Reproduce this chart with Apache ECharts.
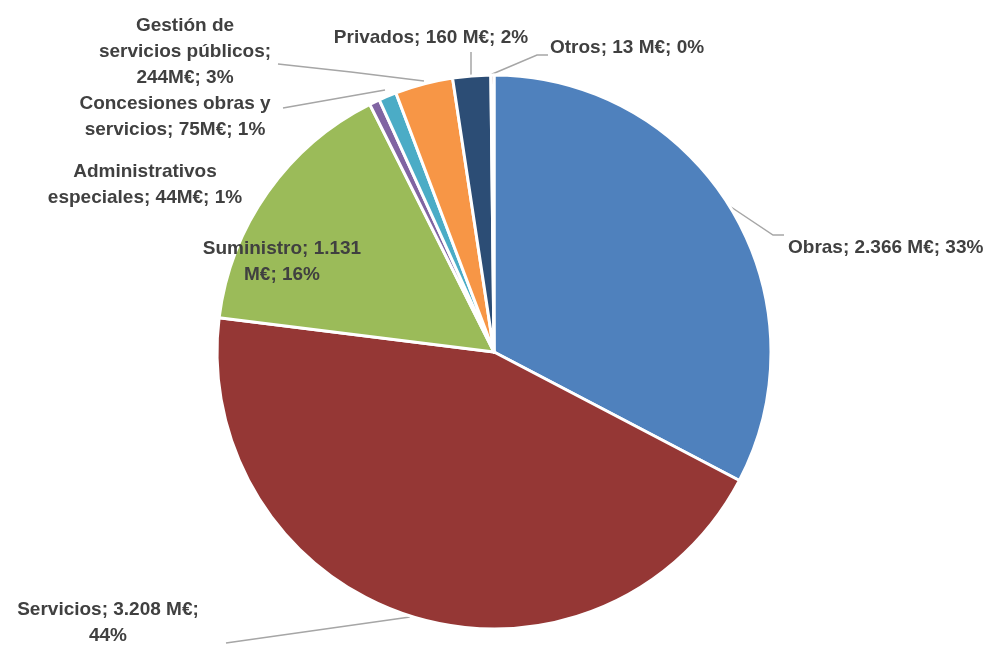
<!DOCTYPE html>
<html>
<head>
<meta charset="utf-8">
<script src="https://cdn.jsdelivr.net/npm/echarts@6/dist/echarts.min.js"></script>
<style>
  html, body { margin: 0; padding: 0; background: #fff; }
  #chart { width: 995px; height: 645px; }
</style>
</head>
<body>
<div id="chart"></div>
<script>
const categories = ['Obras', 'Servicios', 'Suministro', 'Administrativos especiales',
  'Concesiones obras y servicios', 'Gestión de servicios públicos', 'Privados', 'Otros']
const values = [2366, 3208, 1131, 44, 75, 244, 160, 13]
const labelTexts = [
  'Obras; 2.366 M€; 33%',
  'Servicios; 3.208 M€;\n44%',
  'Suministro; 1.131\nM€; 16%',
  'Administrativos\nespeciales; 44M€; 1%',
  'Concesiones obras y\nservicios; 75M€; 1%',
  'Gestión de\nservicios públicos;\n244M€; 3%',
  'Privados; 160 M€; 2%',
  'Otros; 13 M€; 0%'
]
const colors = ['#4F81BD', '#953735', '#9BBB59', '#8064A2', '#4BACC6', '#F79646', '#2C4D75', '#772C2A']

// where each label sits, and the leader line (null = none)
const labelSpots = [
  { x: 788, y: 248, align: 'left', line: [[731, 207], [773, 235], [784, 235]] },
  { x: 108, y: 623, align: 'center', line: [[410, 617], [318, 630], [226, 643]] },
  { x: 282, y: 262, align: 'center', line: null },
  { x: 145, y: 185, align: 'center', line: null },
  { x: 175, y: 117, align: 'center', line: [[385, 90], [334, 99], [283, 108]] },
  { x: 185, y: 52, align: 'center', line: [[424, 81], [351, 72], [278, 64]] },
  { x: 431, y: 38, align: 'center', line: [[471, 76], [471, 64], [471, 52]] },
  { x: 550, y: 48, align: 'left', line: [[490, 75], [537, 55], [548, 55]] }
]

const chart = echarts.init(document.getElementById('chart'))

chart.setOption({
  animation: false,
  series: [{
    type: 'pie',
    center: [494, 352],
    radius: 277,
    startAngle: 90,
    clockwise: true,
    avoidLabelOverlap: false,
    itemStyle: { borderColor: '#fff', borderWidth: 3 },
    label: {
      show: true,
      color: '#404040',
      fontFamily: '"Liberation Sans Narrow", "Liberation Sans", Arial, sans-serif',
      fontWeight: 'bold',
      fontSize: 19,
      lineHeight: 26,
      formatter: p => labelTexts[p.dataIndex]
    },
    labelLine: {
      show: true,
      lineStyle: { color: '#a6a6a6', width: 1.5 }
    },
    labelLayout: params => {
      const s = labelSpots[params.dataIndex]
      const out = { x: s.x, y: s.y, align: s.align, verticalAlign: 'middle' }
      if (s.line) out.labelLinePoints = s.line
      return out
    },
    data: categories.map((name, i) => ({
      name,
      value: values[i],
      itemStyle: { color: colors[i] },
      labelLine: { show: labelSpots[i].line !== null }
    }))
  }]
})
</script>
</body>
</html>
